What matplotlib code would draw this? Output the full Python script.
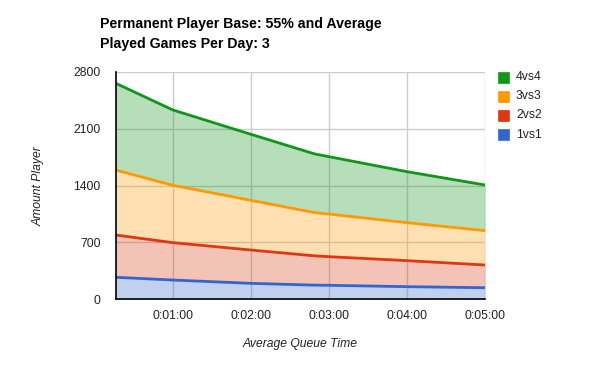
import matplotlib
matplotlib.use("Agg")
import matplotlib.pyplot as plt
from matplotlib.patches import Rectangle
import numpy as np

plt.rcParams['font.family'] = ['Liberation Sans', 'DejaVu Sans']

# queue time in seconds
times = [16, 60, 120, 169, 180, 240, 300]
series_names = ["1vs1", "2vs2", "3vs3", "4vs4"]
s_1vs1 = [268, 234, 193, 171, 169, 152, 139]
s_2vs2 = [521, 461, 411, 361, 353, 321, 280]
s_3vs3 = [802, 707, 613, 533, 526, 468, 424]
s_4vs4 = [1070, 929, 814, 724, 707, 629, 563]
colors = ["#3366cc", "#dc3912", "#ff9900", "#109618"]

x_ticks = [60, 120, 180, 240, 300]
x_tick_labels = ["0:01:00", "0:02:00", "0:03:00", "0:04:00", "0:05:00"]
y_ticks = [0, 700, 1400, 2100, 2800]

title = "Permanent Player Base: 55% and Average\nPlayed Games Per Day: 3"
x_title = "Average Queue Time"
y_title = "Amount Player"

W, H = 600, 371
fig = plt.figure(figsize=(6, 3.71), dpi=100)
ax = fig.add_axes([115.7 / W, 1 - 299 / H, (485.3 - 115.7) / W, (299 - 72) / H])

data = [s_1vs1, s_2vs2, s_3vs3, s_4vs4]
bottom = np.zeros(len(times))
for vals, col, name in zip(data, colors, series_names):
    top = bottom + np.array(vals)
    ax.fill_between(times, bottom, top, color=col, alpha=0.3, linewidth=0, zorder=2)
    ax.plot(times, top, color=col, linewidth=2, zorder=4, solid_joinstyle='round')
    bottom = top

ax.set_xlim(times[0], 300)
ax.set_ylim(0, 2800)
ax.set_xticks(x_ticks)
ax.set_xticklabels(x_tick_labels)
ax.set_yticks(y_ticks)
ax.grid(True, color="#cccccc", linewidth=1, zorder=1)
ax.set_axisbelow(True)
for s in ["top", "right"]:
    ax.spines[s].set_visible(False)
for s in ["left", "bottom"]:
    ax.spines[s].set_color("black")
    ax.spines[s].set_linewidth(1.2)
    ax.spines[s].set_zorder(5)
ax.tick_params(length=0, labelsize=8.7, labelcolor="#222222")
ax.tick_params(axis='y', pad=11)
ax.tick_params(axis='x', pad=8)

fig.text(100 / W, 1 - 17 / H, title, fontsize=10.2, fontweight='bold', ha='left', va='top',
         linespacing=1.55, color="black")
fig.text(300 / W, 1 - 344 / H, x_title, fontsize=8.7, style='italic', ha='center', va='center',
         color="#222222")
fig.text(39 / W, 1 - 186 / H, y_title, fontsize=8.7, style='italic', ha='center', va='center',
         rotation=90, color="#222222")

# legend (top to bottom: reverse order)
for i, (name, col) in enumerate(zip(series_names[::-1], colors[::-1])):
    yc = 77 + i * 19.2
    fig.add_artist(Rectangle((498 / W, 1 - (yc + 5.5) / H), 11 / W, 11 / H,
                             transform=fig.transFigure, facecolor=col, edgecolor=col, linewidth=0.5))
    fig.text(516 / W, 1 - yc / H, name, fontsize=8.7, ha='left', va='center', color="#222222")

fig.savefig("out.png", dpi=100)
